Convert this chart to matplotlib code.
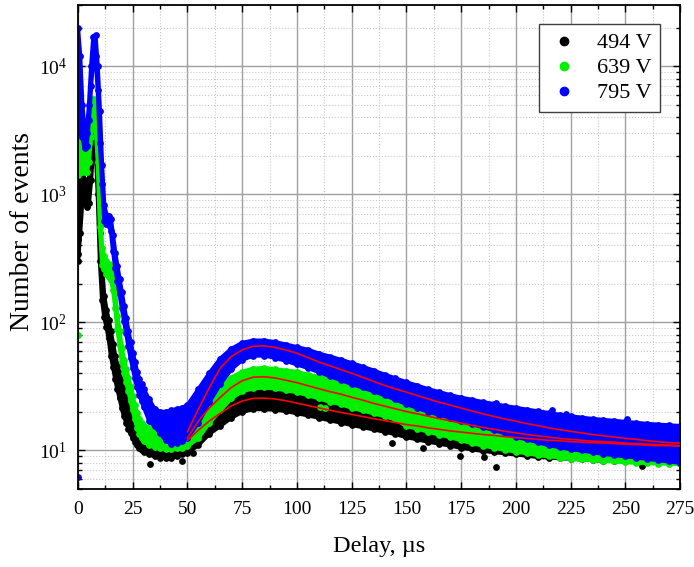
import numpy as np
import matplotlib
matplotlib.use("Agg")
import matplotlib.pyplot as plt
from matplotlib.ticker import MultipleLocator, LogLocator, NullFormatter

plt.rcParams['font.family'] = ['Liberation Serif', 'DejaVu Serif']
plt.rcParams['mathtext.fontset'] = 'stix'

# sample delays (µs)
delay = list(range(0, 31)) + [32.5, 35, 37.5, 40, 42.5, 45, 47.5] + list(range(50, 276, 5))

# upper / lower edges of each measured band (number of events)
hi_494 = [2500, 2000, 1500, 1300, 1200, 1300, 2000, 3500, 4000, 1800, 500,
          260, 160, 125, 105, 85, 68, 55, 46, 40, 35,
          30, 25.5, 22, 19.5, 17.2, 15.5, 14.5, 13.7, 13, 12.5,
          11.8, 11.5, 11.4, 11.4, 11.5, 11.8, 12.3,
          12.8, 15, 18.5, 22, 26, 29, 31, 31, 30.5, 29.5,
          28.5, 27.5, 26.5, 25.5, 24.5, 23.5, 22.5, 21.5, 20.7, 20,
          19.3, 18.6, 18, 17.4, 16.8, 16.3, 15.8, 15.4, 15, 14.6,
          14.3, 14, 13.7, 13.4, 13.2, 13, 12.8, 12.6, 12.4, 12.3,
          12.1, 12, 11.9, 11.8, 11.7, 11.6]
lo_494 = [300, 500, 900, 850, 800, 850, 1300, 2500, 2500, 1000, 300,
          150, 110, 92, 75, 55, 45, 36, 30, 25.5, 21.5,
          18.5, 16.5, 14.8, 13.6, 12.5, 11.7, 11, 10.5, 10.1, 9.8,
          9.3, 9, 8.8, 8.7, 8.8, 9, 9.3,
          9.6, 11, 13.5, 15.5, 18, 20, 21, 21, 20.8, 20.3,
          19.5, 18.8, 18, 17.2, 16.5, 15.8, 15.2, 14.6, 14, 13.4,
          12.7, 12.2, 11.7, 11.3, 10.9, 10.5, 10.2, 9.9, 9.7, 9.5,
          9.3, 9.1, 8.9, 8.8, 8.7, 8.6, 8.5, 8.4, 8.3, 8.3,
          8.2, 8.2, 8.1, 8.1, 8, 8]

hi_639 = [8000, 5000, 2500, 2000, 2000, 2500, 4000, 5500, 5500, 3000, 900,
          380, 330, 300, 285, 270, 235, 170, 113, 85, 63,
          51, 43.5, 37, 31.5, 26.5, 22.5, 19.5, 17.7, 16.3, 15.5,
          15, 14.5, 14.3, 14.3, 14.3, 14.5, 14.5,
          15, 19, 25, 31, 37, 41, 43.5, 44, 43, 42,
          41, 39, 37.5, 35.5, 34, 32, 30.5, 29, 27.5, 26,
          25, 23.8, 22.5, 21.3, 20.2, 19.2, 18.3, 17.5, 16.8, 16.2,
          15.6, 15, 14.6, 14.2, 13.8, 13.5, 13.2, 13, 12.8, 12.6,
          12.4, 12.2, 12.1, 12, 11.9, 11.8]
lo_639 = [1400, 1500, 1500, 1500, 1500, 1800, 2800, 4000, 3500, 1800, 550,
          280, 260, 240, 225, 215, 180, 130, 88, 66, 49,
          40, 34, 29, 24.5, 20.5, 17.5, 15, 13.5, 12.5, 11.8,
          11, 10.6, 10.4, 10.3, 10.3, 10.4, 10.5,
          10.8, 12.5, 16.5, 20.5, 25.5, 29, 30.5, 31, 30.5, 29.5,
          28.5, 27, 25.5, 24, 23, 21.5, 20.5, 19.5, 18.5, 17.5,
          15.5, 14.8, 14, 13.3, 12.7, 12, 11.4, 10.9, 10.5, 10.1,
          9.8, 9.5, 9.2, 9, 8.8, 8.6, 8.5, 8.4, 8.3, 8.2,
          8.1, 8, 8, 7.9, 7.9, 7.8]

hi_795 = [20000, 12000, 5000, 3200, 3000, 5000, 10000, 17000, 17500, 10000, 4500,
          1700, 820, 690, 670, 640, 480, 350, 275, 218, 172,
          135, 108, 86, 70, 58, 49, 41, 36, 33, 30,
          25, 21, 20, 20, 20.5, 21, 21.5,
          22.5, 30, 40, 52, 62, 69, 72, 72, 70, 67,
          64, 61, 57, 54, 51, 48, 45, 42, 39, 36.5,
          34, 32, 30, 28.5, 27, 25.8, 24.8, 23.8, 23, 22.2,
          21.5, 20.8, 20.2, 19.6, 19, 18.5, 18, 17.6, 17.3, 17,
          16.7, 16.4, 16.1, 15.9, 15.7, 15.5]
lo_795 = [3500, 3000, 2800, 2300, 2400, 3800, 7000, 12000, 12000, 6500, 2500,
          1200, 620, 590, 570, 520, 360, 265, 210, 165, 130,
          103, 82, 65, 53, 44, 37, 31, 27, 24.5, 22,
          17, 15.5, 13.6, 12, 11.3, 11.5, 11.8,
          12.5, 16.5, 24, 33, 43, 51, 55, 55, 53, 50,
          47, 44, 41, 38, 35.5, 33, 31, 29, 27, 25,
          23, 21.5, 20, 19, 18, 17, 16, 15.2, 14.4, 13.6,
          12.8, 12.2, 11.6, 11, 10.6, 10.2, 10, 9.7, 9.4, 9.2,
          9, 8.8, 8.6, 8.4, 8.2, 8]

# isolated points outside the bands
out_x_494 = [0, 0, 0.5, 32.9, 47.4, 52.6, 143.3, 157.7, 174.5, 185.5, 191, 257.5]
out_y_494 = [450, 340, 630, 7.9, 8.3, 9.5, 11.4, 10.4, 9.1, 8.9, 7.4, 7.6]
out_x_639 = [0, 110.5, 113]
out_y_639 = [80, 21.8, 21.3]
out_x_795 = [0, 191, 216.4, 223, 250.6]
out_y_795 = [6.2, 23.4, 20.5, 19.4, 17.5]

# fitted curves
fit_x = list(range(50, 276, 5))
fit_494 = [12.0, 14.4, 17.0, 19.5, 22.3, 24.3, 25.5, 25.6, 25.2, 24.4,
           23.4, 22.4, 21.5, 20.6, 19.8, 19.1, 18.4, 17.7, 17.1, 16.5,
           15.9, 15.5, 15.0, 14.6, 14.2, 13.9, 13.6, 13.3, 13.1, 12.8,
           12.6, 12.4, 12.2, 12.0, 11.9, 11.7, 11.6, 11.5, 11.4, 11.3,
           11.2, 11.1, 11.0, 10.9, 10.9, 10.8]
fit_639 = [12.5, 17.0, 21.5, 26.0, 31.0, 35.0, 37.3, 37.6, 36.8, 35.3,
           33.8, 32.0, 30.3, 28.8, 27.5, 26.0, 24.7, 23.3, 22.2, 21.1,
           20.1, 19.3, 18.5, 17.7, 17.0, 16.3, 15.7, 15.1, 14.6, 14.1,
           13.7, 13.3, 13.0, 12.7, 12.4, 12.2, 12.0, 11.8, 11.7, 11.6,
           11.4, 11.3, 11.2, 11.1, 11.0, 10.9]
fit_795 = [14.0, 21.0, 31.0, 44.0, 54.0, 61.0, 65.0, 65.5, 63.7, 60.8,
           57.4, 53.0, 49.0, 45.8, 42.8, 40.0, 37.2, 34.6, 32.2, 30.2,
           28.5, 26.8, 25.2, 23.8, 22.6, 21.4, 20.3, 19.3, 18.4, 17.6,
           16.9, 16.2, 15.6, 15.0, 14.5, 14.1, 13.7, 13.3, 13.0, 12.7,
           12.4, 12.2, 11.9, 11.7, 11.5, 11.4]

labels = ['494 V', '639 V', '795 V']
colors = ['black', '#00f000', '#0000ff']

fig = plt.figure(figsize=(6.94, 5.67), dpi=100)
ax = fig.add_axes([0.1124, 0.1376, 0.8676, 0.8536])

series = [(hi_494, lo_494, out_x_494, out_y_494),
          (hi_639, lo_639, out_x_639, out_y_639),
          (hi_795, lo_795, out_x_795, out_y_795)]
for (hi, lo, ox, oy), c in zip(series, colors):
    ax.fill_between(delay, lo, hi, color=c, lw=0, zorder=2)
    ax.plot(delay, hi, color=c, lw=3, solid_capstyle='round', solid_joinstyle='round', zorder=2)
    ax.plot(delay, lo, color=c, lw=3, solid_capstyle='round', solid_joinstyle='round', zorder=2)
    ax.scatter(delay, hi, s=24, color=c, lw=0, zorder=2)
    ax.scatter(delay, lo, s=24, color=c, lw=0, zorder=2)
    ax.scatter(ox, oy, s=24, color=c, lw=0, zorder=2)

for f in [fit_494, fit_639, fit_795]:
    ax.plot(fit_x, f, color='red', lw=1.2, zorder=3)

ax.set_yscale('log')
ax.set_xlim(0, 275)
ax.set_ylim(5, 30000)

ax.xaxis.set_major_locator(MultipleLocator(25))
ax.xaxis.set_minor_locator(MultipleLocator(12.5))
ax.yaxis.set_major_locator(LogLocator(base=10, numticks=10))
ax.yaxis.set_minor_locator(LogLocator(base=10, subs=np.arange(2, 10), numticks=20))
ax.yaxis.set_minor_formatter(NullFormatter())

ax.grid(which='major', color='#a0a0a0', lw=1.0, ls='-', zorder=0)
ax.grid(which='minor', color='#c8c8c8', lw=0.8, ls=':', zorder=0)
ax.set_axisbelow(True)

ax.tick_params(which='both', direction='in', top=True, right=True, labelsize=14, width=1.0)
ax.tick_params(which='major', length=5)
ax.tick_params(which='minor', length=3)
ax.tick_params(axis='x', which='major', pad=9)
ax.tick_params(axis='y', which='major', pad=8)
for s in ax.spines.values():
    s.set_linewidth(1.3)

ax.set_xlabel('Delay, µs', fontsize=17.5)
ax.set_ylabel('Number of events', fontsize=20)
ax.xaxis.set_label_coords(0.5, -0.097)
ax.yaxis.set_label_coords(-0.072, 0.531)

handles = [plt.Line2D([], [], marker='o', ls='', color=c, markersize=6) for c in colors]
ax.legend(handles, labels, loc='upper right', bbox_to_anchor=(0.967, 0.961),
          borderaxespad=0, fontsize=16, frameon=True, fancybox=False, framealpha=1,
          edgecolor='#404040', labelspacing=0.2, handlelength=1.5,
          handletextpad=0.7, borderpad=0.4)

fig.savefig('out.png', dpi=100)
